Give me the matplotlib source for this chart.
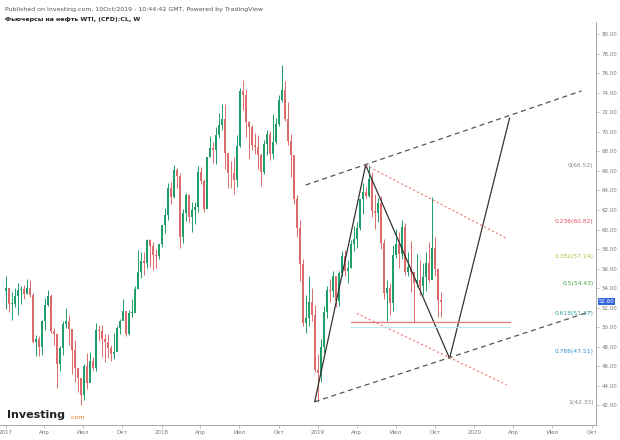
import matplotlib
matplotlib.use("Agg")
import matplotlib.pyplot as plt
import matplotlib.dates as mdates
import datetime as dt

first_open = 53.72
closes = [53.99,52.37,52.42,53.17, 53.83,53.86,53.40,53.99, 53.33,48.49,48.78,47.97,50.60, 52.24,53.18,49.62,49.33,
          46.22,47.84,50.33,50.66,49.80, 47.66,45.83,44.74,43.01,46.04, 44.23,46.54,45.77,49.71,
          49.58,48.82,48.51,47.87,47.29, 47.48,49.89,50.66,51.66, 49.29,51.45,51.47,53.90,
          55.64,56.74,56.55,58.95,58.36, 57.36,57.30,58.47,60.42,
          61.44,64.30,63.37,66.14, 65.45,59.20,61.68,63.55, 61.25,62.04,62.34,65.88,64.94, 62.06,67.39,68.38,68.10,
          69.72,70.70,71.28,67.88, 65.81,65.74,65.06,68.58,74.15, 73.80,71.01,70.46,68.69,
          68.49,67.63,65.91,68.72,69.80, 67.75,68.99,70.78,73.25, 74.34,71.34,69.12,67.59,
          63.14,60.19,56.46,50.42,50.93, 52.61,51.20,45.59,45.33,
          47.96,51.59,53.80,53.69, 55.26,52.72,55.59,57.26,55.80, 56.07,58.52,59.04,60.14,
          63.08,63.89,63.40,65.21,61.94, 61.66,62.76,58.63,53.50, 53.99,52.51,57.43,58.47,
          57.51,60.21,55.63,56.20, 55.66,54.50,54.87,54.17,55.10, 56.52,54.85,58.09,55.91, 52.81,52.60]
highs = [55.24,53.98,53.55,54.00, 54.55,54.25,54.28,54.94, 54.84,53.50,49.20,49.05,50.77, 52.94,53.76,53.44,49.91,
         49.42,48.09,50.66,52.00,51.20, 49.37,48.69,45.49,44.04,46.18, 47.32,47.42,46.98,50.43,
         50.21,50.22,49.31,49.29,48.12, 49.40,50.13,50.85,52.86, 51.52,51.79,52.86,54.20,
         57.92,57.69,57.69,59.05,59.05, 58.76,58.00,58.49,60.51,
         62.21,64.77,64.89,66.66, 66.30,65.75,62.15,63.75, 63.67,62.81,62.82,66.55,66.45, 65.14,67.45,69.56,69.00,
         70.46,71.89,72.90,72.83, 67.45,67.03,67.40,69.67,74.45, 75.27,74.39,71.12,70.66,
         69.88,69.68,67.79,69.13,70.22, 70.05,71.86,71.43,73.76, 76.90,75.19,73.06,69.74,
         64.64,63.54,60.95,57.00,53.30, 55.22,53.96,52.26,47.23,
         48.82,52.20,54.24,54.94, 55.75,55.12,55.75,57.81,57.88, 56.92,58.95,60.39,60.73,
         63.10,64.79,64.31,66.60,65.94, 63.69,63.23,63.41,59.04, 54.84,54.55,58.40,60.09,
         59.70,60.94,60.68,57.70, 58.82,54.69,57.47,56.83,56.60, 57.70,58.76,63.38,59.20, 56.10,53.60]
lows = [51.86,51.59,50.71,52.09, 51.22,52.35,52.85,53.37, 53.08,48.35,47.09,47.01,47.10, 49.70,52.19,49.42,48.18,
        43.76,45.50,47.17,49.90,48.19, 45.20,44.37,43.39,42.05,42.55, 43.71,44.67,45.57,45.46,
        48.54,46.99,46.46,46.84,46.49, 46.69,47.73,49.32,50.71, 49.10,49.17,51.05,51.56,
        53.89,55.07,55.30,56.02,56.13, 55.82,56.09,56.96,58.25,
        59.68,61.00,62.64,63.28, 64.21,58.07,58.60,60.83, 60.74,59.75,60.59,61.83,64.67, 61.84,62.20,67.38,66.86,
        66.74,69.34,70.22,66.15, 64.22,64.22,63.61,64.32,68.42, 72.20,69.44,67.20,68.17,
        67.71,66.19,64.43,65.71,67.62, 67.12,67.21,68.77,70.57, 73.07,71.08,68.69,65.33,
        62.59,59.26,54.75,50.15,49.41, 50.12,50.62,45.36,42.36,
        44.35,47.30,50.92,52.60, 53.06,52.08,52.21,55.27,55.22, 54.52,56.02,57.76,58.07,
        59.96,61.57,63.18,63.30,61.30, 60.04,60.73,58.03,52.86, 50.60,51.28,51.64,57.09,
        56.02,57.03,55.39,55.22, 53.59,50.52,54.07,53.25,53.30, 53.75,54.61,54.92,55.20, 50.99,51.00]

fib_labels = ["0(66.52)", "0.236(60.82)", "0.382(57.24)", "0.5(54.43)", "0.618(51.37)", "0.786(47.51)", "1(42.33)"]
fib_prices = [66.52, 60.82, 57.24, 54.43, 51.37, 47.51, 42.33]
fib_colors = ["#888888", "#e05060", "#b8c040", "#40a040", "#30a0a0", "#3090d0", "#888888"]
xtick_labels = ["2017","Апр","Июл","Окт","2018","Апр","Июл","Окт","2019","Апр","Июл","Окт","2020","Апр","Июл","Окт"]

fig = plt.figure(figsize=(6.2, 4.4), dpi=100)
ax = fig.add_axes([0.0, 0.034, 0.962, 0.916])
start = dt.date(2017, 1, 2)
n = min(len(closes), len(highs), len(lows))
opens = [first_open] + closes[:n-1]
up_c, dn_c = "#1f9e6a", "#dd6b6b"
for i in range(n):
    d = mdates.date2num(start + dt.timedelta(days=7*i))
    o, c = opens[i], closes[i]
    col = up_c if c >= o else dn_c
    ax.vlines(d, lows[i], highs[i], color=col, lw=0.7)
    ax.bar(d, abs(c-o) if abs(c-o) > 0.08 else 0.08, bottom=min(o, c), width=4.5, color=col, lw=0)

D = lambda y, m, dd: mdates.date2num(dt.date(y, m, dd))
ax.plot([D(2018,12,3), D(2020,9,7)], [64.56, 74.2], ls=(0,(4,3)), color="#555555", lw=0.9)
ax.plot([D(2018,12,24), D(2020,9,28)], [42.36, 51.6], ls=(0,(4,3)), color="#555555", lw=0.9)
ax.plot([D(2018,12,24), D(2019,4,22), D(2019,11,4), D(2020,3,23)], [42.36, 66.6, 46.8, 71.4], color="#333333", lw=0.9)
ax.plot([D(2019,4,22), D(2020,3,16)], [66.6, 59.1], ls=(0,(2,2)), color="#ee7777", lw=0.8)
ax.plot([D(2019,4,1), D(2020,3,16)], [51.4, 44.1], ls=(0,(2,2)), color="#ee7777", lw=0.8)
ax.plot([D(2019,3,18), D(2020,3,23)], [50.5, 50.5], color="#ee7777", lw=0.9)
ax.plot([D(2019,3,18), D(2020,3,23)], [50.05, 50.05], color="#bfe8ef", lw=0.8)
for lab, p, c in zip(fib_labels, fib_prices, fib_colors):
    ax.text(D(2020,10,5), p, lab, color=c, fontsize=4.3, ha="right", va="center")

ax.set_ylim(39.97, 81.26)
ax.set_xlim(D(2016,12,19), D(2020,10,12))
ax.yaxis.tick_right()
ax.set_yticks(list(range(42, 81, 2)))
ax.set_yticklabels([f"{v:.2f}" for v in range(42, 81, 2)], fontsize=4, color="#777777")
qd = [D(2017 + k//4, 1 + 3*(k % 4), 1) for k in range(16)]
ax.set_xticks(qd)
ax.set_xticklabels(xtick_labels, fontsize=4, color="#777777")
ax.tick_params(length=2, width=0.5, colors="#aaaaaa", labelcolor="#777777", pad=1.5)
for s in ["top", "left"]:
    ax.spines[s].set_visible(False)
for s in ["right", "bottom"]:
    ax.spines[s].set_color("#999999"); ax.spines[s].set_linewidth(0.6)
ax.text(1.004, (52.6-39.97)/(81.26-39.97), "52.60", transform=ax.transAxes, fontsize=4, color="white",
        va="center", ha="left", bbox=dict(boxstyle="square,pad=0.15", fc="#3366dd", ec="none"))
fig.text(0.008, 0.985, "Published on Investing.com, 10Oct/2019 - 10:44:42 GMT, Powered by TradingView",
         fontsize=4.5, color="#555555", va="top")
fig.text(0.008, 0.962, "Фьючерсы на нефть WTI, (CFD):CL, W", fontsize=4.5, color="#222222", weight="bold", va="top")
fig.text(0.012, 0.045, "Investing", fontsize=8, weight="bold", color="#222222", va="bottom")
fig.text(0.112, 0.045, ".com", fontsize=4.5, color="#e07a20", va="bottom")
fig.savefig("out.png", dpi=100)
